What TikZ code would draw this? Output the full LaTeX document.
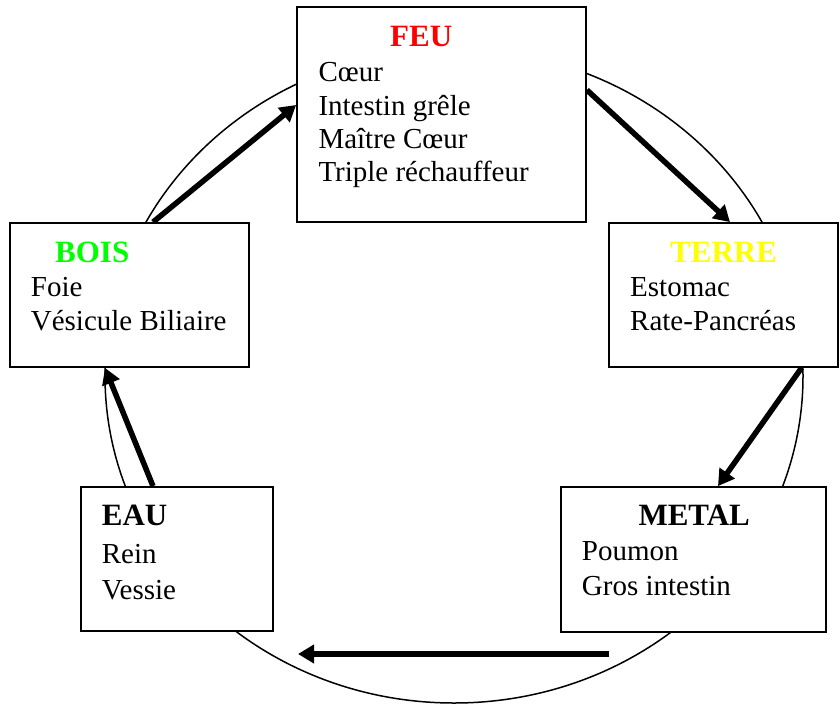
\documentclass[tikz,border=0pt]{standalone}
\usepackage{fontspec}
\setmainfont{Liberation Serif}
\definecolor{feurouge}{RGB}{255, 0, 0}
\definecolor{boisvert}{RGB}{0, 255, 0}
\definecolor{terrejaune}{RGB}{255, 255, 0}
\usetikzlibrary{arrows.meta,shapes,positioning,calc}

\begin{document}
\begin{tikzpicture}[x=1pt, y=-1pt,
    organe/.style={draw, line width=1.8pt, fill=white, inner sep=0pt},
    titre/.style={anchor=base west, inner sep=0pt, font=\fontsize{31}{31}\selectfont\bfseries},
    ligne/.style={anchor=base west, inner sep=0pt, font=\fontsize{29}{30}\selectfont},
    fleche/.style={line width=5.5pt, -{Triangle[length=16pt,width=18pt]}}]
    \useasboundingbox (0,0) rectangle (840,704);
    % le cycle derriere les cases
    \draw[line width=1.5pt] (454,376) ellipse [x radius=349, y radius=327];
    % les cinq elements
    \node[organe, minimum width=289pt, minimum height=215pt] (feu) at (441.5,114.5) {};
    \node[organe, minimum width=229pt, minimum height=144pt] (terre) at (723.5,295) {};
    \node[organe, minimum width=265pt, minimum height=145pt] (metal) at (693.5,559.5) {};
    \node[organe, minimum width=192pt, minimum height=144pt] (eau) at (177,559) {};
    \node[organe, minimum width=239pt, minimum height=144pt] (bois) at (129.5,295) {};
    % textes
    \node[titre, feurouge] (feu-titre) at (390,46.7) {FEU};
    \foreach \n/\t in {0/Cœur, 1/Intestin grêle, 2/Maître Cœur, 3/Triple réchauffeur}
        \node[ligne] (feu-\n) at (318.3,81.7+33.4*\n) {\t};
    \node[titre, terrejaune] (terre-titre) at (670,262.7) {TERRE};
    \foreach \n/\t in {0/Estomac, 1/Rate-Pancréas}
        \node[ligne] (terre-\n) at (630,296.7+33.3*\n) {\t};
    \node[titre] (metal-titre) at (638.3,525) {METAL};
    \foreach \n/\t in {0/Poumon, 1/Gros intestin}
        \node[ligne] (metal-\n) at (581.7,560+35*\n) {\t};
    \node[titre] (eau-titre) at (101.7,525.7) {EAU};
    \foreach \n/\t in {0/Rein, 1/Vessie}
        \node[ligne] (eau-\n) at (101.7,563.3+36*\n) {\t};
    \node[titre, boisvert] (bois-titre) at (55,262.7) {BOIS};
    \foreach \n/\t in {0/Foie, 1/Vésicule Biliaire}
        \node[ligne] (bois-\n) at (30.7,296+34*\n) {\t};
    % fleches
    \draw[fleche] ([xshift=23.5pt]bois.north) -- ([yshift=9.5pt]feu.west);
    \draw[fleche] ([yshift=24.5pt]feu.east) -- ([xshift=6.5pt]terre.north);
    \draw[fleche] ([xshift=78pt]terre.south) -- ([xshift=24.5pt]metal.north);
    \coordinate (metal-eau-a) at (609,654);
    \coordinate (metal-eau-b) at (298,654);
    \draw[fleche] (metal-eau-a) -- (metal-eau-b);
    \draw[fleche] ([xshift=-24pt]eau.north) -- ([xshift=-24.5pt]bois.south);
\end{tikzpicture}
\end{document}
